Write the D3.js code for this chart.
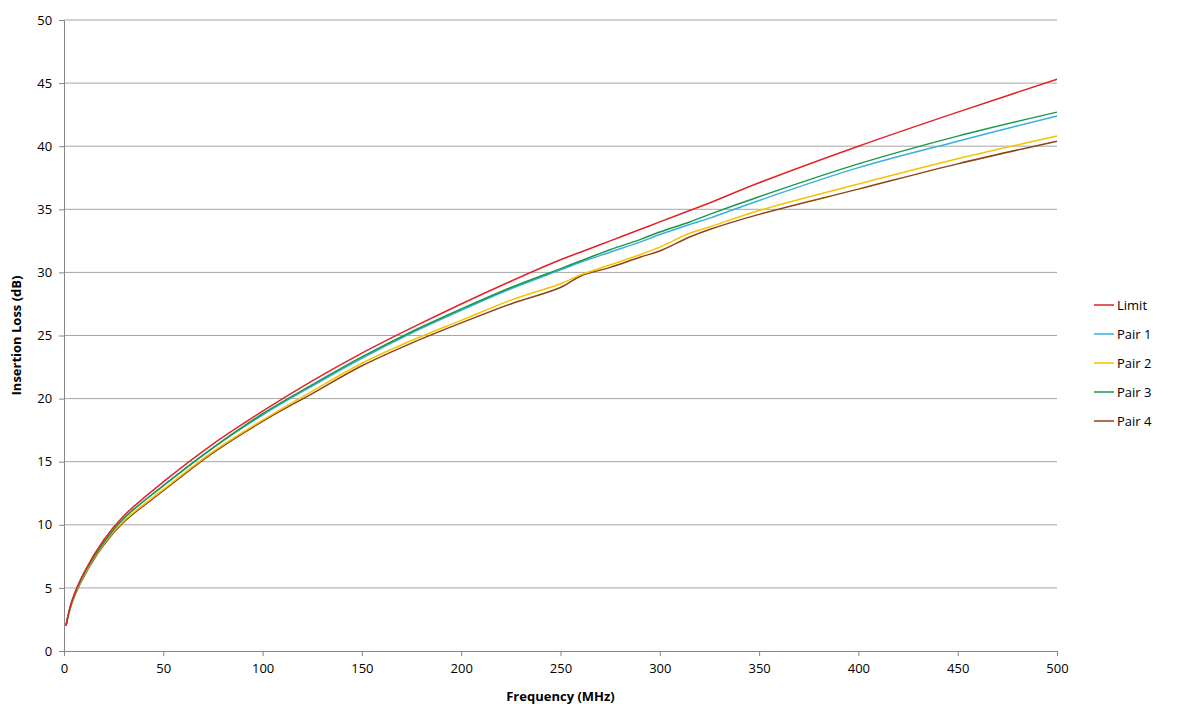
<!DOCTYPE html>
<html><head><meta charset="utf-8">
<script src="https://cdn.jsdelivr.net/npm/d3@7"></script>
<style>body{margin:0;background:#fff;font-family:"Open Sans",sans-serif;}</style>
</head><body>
<svg id="chart" width="1179" height="704"></svg>
<script>
const freqs = [1, 4, 10, 20, 30, 50, 75, 100, 125, 150, 175, 200, 225, 250, 260, 275, 290, 300, 315, 325, 350, 400, 450, 500];
const limit = [2.0, 4.0, 6.2, 8.8, 10.7, 13.4, 16.4, 19.0, 21.4, 23.6, 25.6, 27.5, 29.3, 31.0, 31.6, 32.5, 33.4, 34.0, 34.9, 35.5, 37.1, 40.0, 42.7, 45.3];
const pair1 = [2.0, 3.9, 6.1, 8.6, 10.5, 13.1, 16.1, 18.7, 21.0, 23.2, 25.2, 27.0, 28.7, 30.2, 30.8, 31.6, 32.4, 33.0, 33.8, 34.3, 35.7, 38.3, 40.4, 42.4];
const pair2 = [2.0, 3.8, 6.0, 8.5, 10.3, 12.8, 15.8, 18.3, 20.6, 22.8, 24.6, 26.2, 27.8, 29.1, 29.8, 30.6, 31.4, 32.0, 33.1, 33.6, 34.9, 37.0, 39.0, 40.8];
const pair3 = [2.0, 3.9, 6.1, 8.6, 10.5, 13.1, 16.1, 18.8, 21.1, 23.3, 25.3, 27.1, 28.8, 30.3, 30.9, 31.8, 32.6, 33.2, 34.0, 34.6, 36.0, 38.6, 40.8, 42.7];
const pair4 = [2.0, 3.8, 5.9, 8.4, 10.2, 12.7, 15.7, 18.2, 20.4, 22.6, 24.4, 26.0, 27.5, 28.8, 29.7, 30.4, 31.2, 31.7, 32.8, 33.4, 34.6, 36.6, 38.6, 40.4];
const seriesNames = ["Limit", "Pair 1", "Pair 2", "Pair 3", "Pair 4"];
const seriesColors = ["#e2232a", "#3aaee0", "#f7c200", "#1a9a48", "#8b4513"];
const seriesValues = [limit, pair1, pair2, pair3, pair4];
const xTicks = [0, 50, 100, 150, 200, 250, 300, 350, 400, 450, 500];
const yTicks = [0, 5, 10, 15, 20, 25, 30, 35, 40, 45, 50];

const svg = d3.select("#chart");
const x = d3.scaleLinear().domain([0, 500]).range([64, 1057]);
const y = d3.scaleLinear().domain([0, 50]).range([651, 20]);

// gridlines
svg.append("g").selectAll("line").data(yTicks.filter(d => d > 0)).join("line")
  .attr("x1", x(0)).attr("x2", x(500)).attr("y1", d => y(d)).attr("y2", d => y(d))
  .attr("stroke", "#a6a6a6").attr("stroke-width", 1);

// axes
const xAxis = svg.append("g").attr("transform", `translate(0,${y(0)})`)
  .call(d3.axisBottom(x).tickValues(xTicks).tickSize(5).tickSizeOuter(0));
const yAxis = svg.append("g").attr("transform", `translate(${x(0)},0)`)
  .call(d3.axisLeft(y).tickValues(yTicks).tickSize(5).tickSizeOuter(0));
[xAxis, yAxis].forEach(a => {
  a.selectAll("path,line").attr("stroke", "#868686");
  a.selectAll("text").attr("fill", "#000").style("font-size", "13px").style("font-family", "Open Sans");
});
xAxis.selectAll("text").attr("dy", "1.1em");
yAxis.selectAll("text").attr("dx", "-0.3em");

// axis titles
svg.append("text").attr("x", x(250)).attr("y", 701).attr("text-anchor", "middle")
  .style("font-size", "13px").style("font-weight", "bold").text("Frequency (MHz)");
svg.append("text").attr("transform", `translate(21,${y(25)}) rotate(-90)`).attr("text-anchor", "middle")
  .style("font-size", "13px").style("font-weight", "bold").text("Insertion Loss (dB)");

// lines
const line = d3.line().x((d, i) => x(freqs[i])).y(d => y(d)).curve(d3.curveCatmullRom.alpha(0.5));
// draw pairs first, limit last on top
[4, 2, 1, 3, 0].forEach(k => {
  svg.append("path").attr("d", line(seriesValues[k])).attr("fill", "none")
    .attr("stroke", seriesColors[k]).attr("stroke-width", 1.5);
});

// legend
const lg = svg.append("g");
seriesNames.forEach((n, i) => {
  const ly = 305 + i * 29;
  lg.append("line").attr("x1", 1094).attr("x2", 1114).attr("y1", ly).attr("y2", ly)
    .attr("stroke", seriesColors[i]).attr("stroke-width", 1.5);
  lg.append("text").attr("x", 1117).attr("y", ly + 5).style("font-size", "13px").text(n);
});
</script>
</body></html>
